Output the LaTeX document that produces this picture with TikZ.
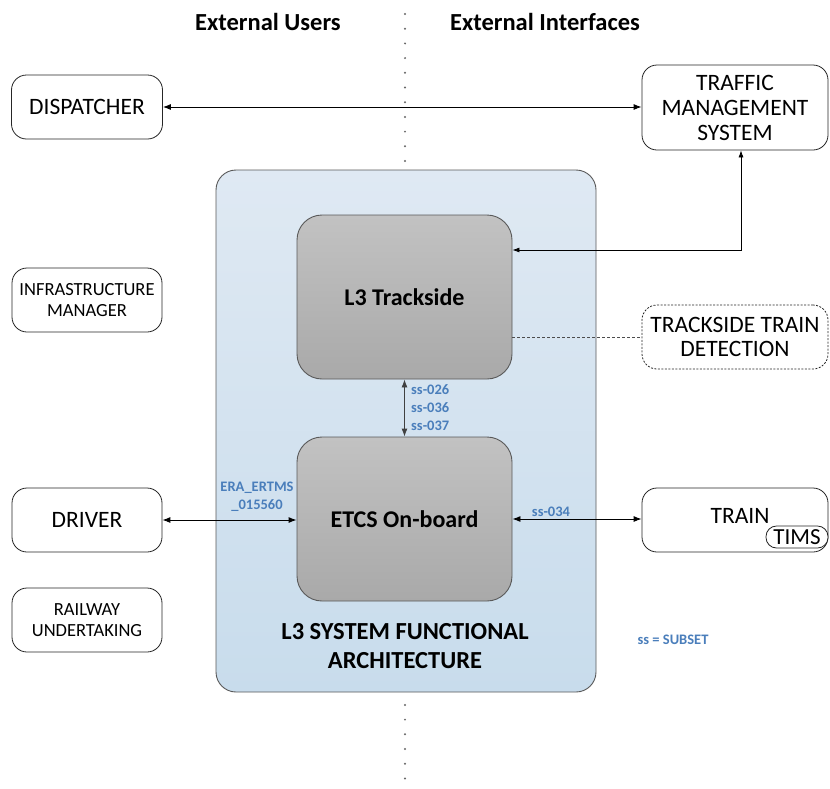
\documentclass[tikz,border=0pt]{standalone}
\usepackage{fontspec}
\setmainfont{Carlito}
\usetikzlibrary{arrows.meta,calc}
\definecolor{ssblue}{HTML}{4A7EBB}
\definecolor{bigtop}{HTML}{DFE9F3}
\definecolor{bigbot}{HTML}{C8DCEC}
\definecolor{graytop}{HTML}{C2C2C2}
\definecolor{graybot}{HTML}{A9A9A9}
\definecolor{edgegray}{HTML}{595959}
\tikzset{
  extbox/.style={draw=black!85, line width=0.8pt, rounded corners=15pt, align=center, inner sep=0pt, fill=white,
    font=\fontsize{23.5}{25}\selectfont},
  extsmall/.style={extbox, font=\fontsize{18.5}{21.5}\selectfont},
  corebox/.style={draw=edgegray, line width=0.9pt, rounded corners=25pt, top color=graytop, bottom color=graybot, inner sep=0pt,
    font=\bfseries\fontsize{24}{27}\selectfont},
  head/.style={font=\bfseries\fontsize{24.5}{28.5}\selectfont, inner sep=0pt, align=center},
  sslbl/.style={font=\bfseries\fontsize{14.5}{18}\selectfont, text=ssblue, inner sep=0pt},
  biarrow/.style={{Latex[length=8pt,width=6pt]}-{Latex[length=8pt,width=6pt]}, line width=0.9pt, black},
  thinarrow/.style={{Latex[length=7pt,width=5pt]}-{Latex[length=7pt,width=5pt]}, line width=0.7pt, black},
}
\begin{document}
\begin{tikzpicture}[x=1pt,y=-1pt]
\path[use as bounding box, fill=white] (0,0) rectangle (830,788);
% dotted separator
\draw[line width=2.2pt, line cap=round, dash pattern=on 0pt off 14.7pt, black!60] (405,14) -- (405,786);
% headings
\node[head] (hu) at (268,22) {External Users};
\node[head] (hi) at (545,22) {External Interfaces};
% big box
\node[draw=edgegray, line width=0.9pt, rounded corners=20pt, top color=bigtop, bottom color=bigbot,
  minimum width=380pt, minimum height=522pt, inner sep=0pt] (big) at (406,431) {};
\node[head] (bigt) at (405,646) {L3 SYSTEM FUNCTIONAL\\ARCHITECTURE};
% core boxes
\node[corebox, minimum width=215pt, minimum height=164pt] (track) at (404.5,297) {L3 Trackside};
\node[corebox, minimum width=215pt, minimum height=164pt] (etcs) at (404.5,519) {ETCS On-board};
% external boxes
\node[extbox, minimum width=151pt, minimum height=64pt] (disp) at (87,107) {DISPATCHER};
\node[extbox, minimum width=186pt, minimum height=85pt] (tms) at (735,107.5) {TRAFFIC\\MANAGEMENT\\SYSTEM};
\node[extsmall, minimum width=150pt, minimum height=64pt] (infra) at (87,300) {INFRASTRUCTURE\\MANAGER};
\node[extbox, minimum width=150pt, minimum height=64pt] (driver) at (87,520) {DRIVER};
\node[extsmall, minimum width=150pt, minimum height=64pt] (rail) at (87,620) {RAILWAY\\UNDERTAKING};
\node[extbox, dashed, dash pattern=on 2pt off 1.5pt, font=\fontsize{23.5}{24}\selectfont, minimum width=186pt, minimum height=64pt] (ttd) at (735,337) {TRACKSIDE TRAIN\\DETECTION};
\node[extbox, minimum width=186pt, minimum height=64pt] (train) at (735,520) {};
\node[font=\fontsize{23.5}{25}\selectfont, inner sep=0pt] (trainl) at (740,516) {TRAIN};
\node[draw=black!85, line width=0.8pt, rounded corners=10.5pt, minimum width=62pt, minimum height=22pt,
  inner sep=0pt, fill=white, font=\fontsize{23}{24}\selectfont] (tims) at (797,537) {TIMS};
% connectors
\draw[biarrow] (disp.east) -- (disp.east -| tms.west);
\draw[thinarrow] (track.east |- 0,250) -| ([xshift=6pt]tms.south);
\draw[densely dashed, line width=0.6pt, black!70] (track.east |- ttd.west) -- (ttd.west);
\draw[biarrow, black!75] (track.south) -- (etcs.north);
\draw[biarrow] (driver.east) -- (driver.east -| etcs.west);
\draw[biarrow] (etcs.east) -- (etcs.east -| train.west);
% labels
\node[sslbl, align=left, anchor=west] (ssv) at (411,408) {ss-026\\ss-036\\ss-037};
\node[sslbl, align=center] (era) at (257,497) {ERA\_ERTMS\\\_015560};
\node[sslbl] (ss34) at (551,512) {ss-034};
\node[sslbl] (ssdef) at (673,640) {ss = SUBSET};
\end{tikzpicture}
\end{document}
